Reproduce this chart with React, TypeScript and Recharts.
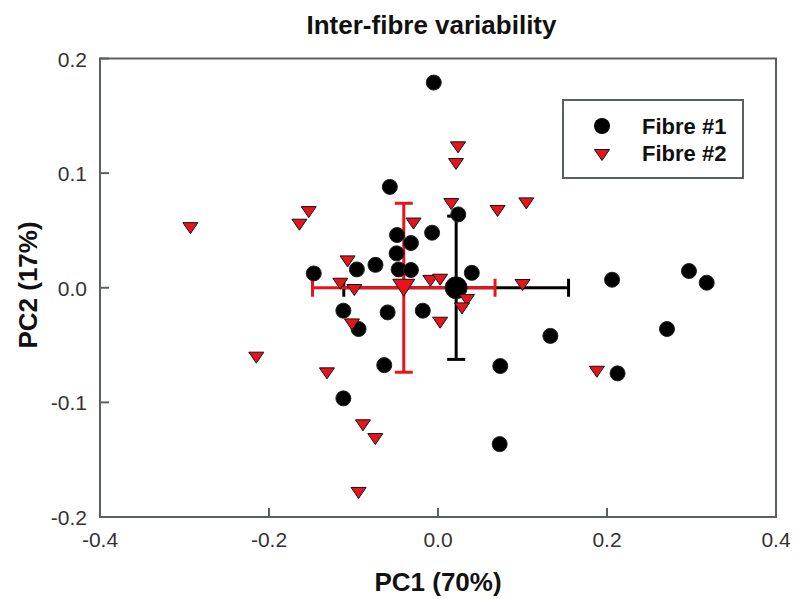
import React from "react"
import { ScatterChart, Scatter, XAxis, YAxis, ErrorBar, ReferenceArea } from "recharts"

// Fibre #1 scores (black circles)
const fibre1X = [-0.005, -0.057, -0.007, -0.0485, -0.032, -0.049, -0.074, -0.096, -0.147, -0.0466, -0.032, 0.024, 0.04, 0.206, 0.297, 0.318, -0.018, -0.112, -0.0596, -0.094, -0.0636, -0.112, 0.133, 0.271, 0.0737, 0.2125, 0.073]
const fibre1Y = [0.179, 0.088, 0.048, 0.046, 0.039, 0.03, 0.02, 0.016, 0.0125, 0.016, 0.0155, 0.064, 0.013, 0.007, 0.0146, 0.0044, -0.02, -0.02, -0.0215, -0.036, -0.0675, -0.0965, -0.042, -0.036, -0.0683, -0.0747, -0.1364]

// Fibre #2 scores (red triangles)
const fibre2X = [-0.293, -0.153, -0.164, -0.029, -0.107, -0.1156, -0.099, -0.009, 0.0025, 0.0237, 0.0213, 0.0157, 0.0705, 0.1045, 0.1, 0.0343, 0.0284, 0.0025, 0.188, -0.1018, -0.215, -0.1314, -0.0888, -0.0742, -0.094]
const fibre2Y = [0.052, 0.066, 0.055, 0.056, 0.023, 0.0035, -0.002, 0.006, 0.007, 0.1225, 0.108, 0.073, 0.067, 0.0736, 0.0024, -0.0107, -0.018, -0.0305, -0.0733, -0.032, -0.061, -0.0747, -0.12, -0.132, -0.179]

// group means with standard deviations
const meanX = [0.0215, -0.0405]
const meanY = [0, 0]
const sdX = [0.133, 0.108]
const sdY = [0.0625, 0.0737]

const legendLabels = ["Fibre #1", "Fibre #2"]

const xTicks = [-0.4, -0.2, 0, 0.2, 0.4]
const yTicks = [-0.2, -0.1, 0, 0.1, 0.2]

const RED = "#e8141c"
const FRAME = "#5a5f66"
const FONT = "'Liberation Sans', Arial, sans-serif"

const fibre1 = fibre1X.map((x, i) => ({ x, y: fibre1Y[i] }))
const fibre2 = fibre2X.map((x, i) => ({ x, y: fibre2Y[i] }))
const mean1 = [{ x: meanX[0], y: meanY[0], ex: sdX[0], ey: sdY[0] }]
const mean2 = [{ x: meanX[1], y: meanY[1], ex: sdX[1], ey: sdY[1] }]

const circle = (r: number) => (props: any) => <circle cx={props.cx} cy={props.cy} r={r} fill="#000" stroke="#222" strokeWidth={1} />

const triangle = (w: number, h: number) => (props: any) => {
  const { cx, cy } = props
  return (
    <polygon
      points={`${cx - w},${cy - h / 2} ${cx + w},${cy - h / 2} ${cx},${cy + h / 2}`}
      fill={RED}
      stroke="#111"
      strokeWidth={1}
      strokeLinejoin="round"
    />
  )
}

const XTick = (props: any) => {
  const { x, y, payload } = props
  return (
    <g>
      <line x1={x} x2={x} y1={y} y2={y - 9} stroke={FRAME} strokeWidth={2} />
      <text x={x} y={y + 30} textAnchor="middle" fontSize={21} fill="#333" fontFamily={FONT}>
        {Number(payload.value).toFixed(1)}
      </text>
    </g>
  )
}

const YTick = (props: any) => {
  const { x, y, payload } = props
  return (
    <g>
      <line x1={x} x2={x + 9} y1={y} y2={y} stroke={FRAME} strokeWidth={2} />
      <text x={x - 13} y={y + 8} textAnchor="end" fontSize={21} fill="#333" fontFamily={FONT}>
        {Number(payload.value).toFixed(1)}
      </text>
    </g>
  )
}

export default function App() {
  return (
    <div style={{ position: "absolute", left: 0, top: 0, width: 795, height: 599, background: "#fff" }}>
      <ScatterChart width={795} height={599} margin={{ top: 58.5, right: 19, bottom: 52, left: 40 }} style={{ fontFamily: FONT }}>
        <XAxis
          type="number"
          dataKey="x"
          domain={[-0.4, 0.4]}
          ticks={xTicks}
          axisLine={false}
          tickLine={false}
          tickSize={0}
          tickMargin={0}
          tick={<XTick />}
          height={30}
        />
        <YAxis
          type="number"
          dataKey="y"
          domain={[-0.2, 0.2]}
          ticks={yTicks}
          axisLine={false}
          tickLine={false}
          tickSize={0}
          tickMargin={0}
          tick={<YTick />}
          width={60}
        />
        <ReferenceArea x1={-0.4} x2={0.4} y1={-0.2} y2={0.2} fill="none" stroke={FRAME} strokeWidth={2} />
        <Scatter data={mean1} shape={circle(11)} isAnimationActive={false}>
          <ErrorBar dataKey="ex" direction="x" width={9} stroke="#000" strokeWidth={3} />
          <ErrorBar dataKey="ey" direction="y" width={9} stroke="#000" strokeWidth={3} />
        </Scatter>
        <Scatter data={fibre1} shape={circle(7.5)} isAnimationActive={false} />
        <Scatter data={fibre2} shape={triangle(7.5, 11)} isAnimationActive={false} />
        <Scatter data={mean2} shape={triangle(11, 17)} isAnimationActive={false}>
          <ErrorBar dataKey="ex" direction="x" width={9} stroke={RED} strokeWidth={3} />
          <ErrorBar dataKey="ey" direction="y" width={9} stroke={RED} strokeWidth={3} />
        </Scatter>

        {/* legend box */}
        <g>
          <rect x={563} y={100} width={180} height={78} fill="#fff" stroke={FRAME} strokeWidth={2} />
          <circle cx={602} cy={126} r={8} fill="#000" />
          <polygon points="594.5,149.5 609.5,149.5 602,160.5" fill={RED} stroke="#111" strokeWidth={1} />
          <text x={642} y={133.5} fontSize={22} fontWeight="bold" fill="#111" fontFamily={FONT}>{legendLabels[0]}</text>
          <text x={642} y={161} fontSize={22} fontWeight="bold" fill="#111" fontFamily={FONT}>{legendLabels[1]}</text>
        </g>

        <text x={431.5} y={34} textAnchor="middle" fontSize={26} fontWeight="bold" fill="#111" fontFamily={FONT}>
          Inter-fibre variability
        </text>
        <text x={438} y={591} textAnchor="middle" fontSize={26} fontWeight="bold" fill="#111" fontFamily={FONT}>
          PC1 (70%)
        </text>
        <text x={37} y={285} transform="rotate(-90, 37, 285)" textAnchor="middle" fontSize={26} fontWeight="bold" fill="#111" fontFamily={FONT}>
          PC2 (17%)
        </text>
      </ScatterChart>
    </div>
  )
}
